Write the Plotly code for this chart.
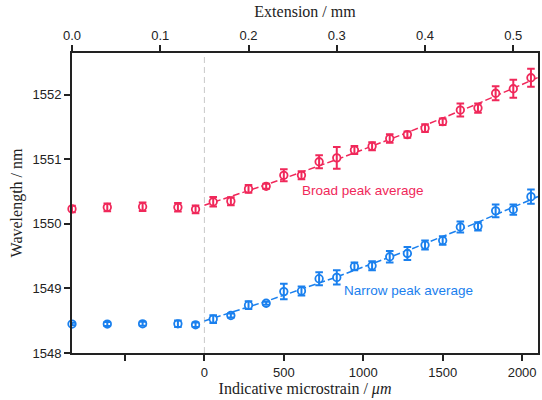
import numpy as np
import plotly.graph_objects as go

# Extension (mm) of each measurement
ext_pre = [0.0, 0.04, 0.08, 0.12, 0.14]
ext_post = [0.16, 0.18, 0.20, 0.22, 0.24, 0.26, 0.28, 0.30, 0.32, 0.34,
            0.36, 0.38, 0.40, 0.42, 0.44, 0.46, 0.48, 0.50, 0.52]

broad_pre = [1550.23, 1550.255, 1550.264, 1550.255, 1550.224]
broad_pre_err = [0.05, 0.06, 0.065, 0.065, 0.06]
broad_post = [1550.34, 1550.35, 1550.54, 1550.58, 1550.75, 1550.75, 1550.96,
              1551.02, 1551.14, 1551.20, 1551.32, 1551.38, 1551.48, 1551.58,
              1551.76, 1551.79, 1552.02, 1552.09, 1552.26]
broad_post_err = [0.073, 0.062, 0.059, 0.039, 0.093, 0.062, 0.10, 0.17, 0.062,
                  0.062, 0.065, 0.05, 0.06, 0.05, 0.10, 0.07, 0.11, 0.14, 0.14]

narrow_pre = [1548.448, 1548.448, 1548.452, 1548.452, 1548.436]
narrow_pre_err = [0.02, 0.03, 0.03, 0.05, 0.035]
narrow_post = [1548.525, 1548.58, 1548.74, 1548.77, 1548.95, 1548.96, 1549.15,
               1549.17, 1549.34, 1549.35, 1549.49, 1549.54, 1549.67, 1549.74,
               1549.95, 1549.96, 1550.20, 1550.22, 1550.42]
narrow_post_err = [0.06, 0.03, 0.06, 0.025, 0.12, 0.07, 0.10, 0.11, 0.06, 0.07,
                   0.09, 0.10, 0.07, 0.065, 0.085, 0.065, 0.10, 0.08, 0.11]

ext_zero = 0.15      # mm at zero strain
gauge_len = 180.0    # mm
ext_range = [0.0, 0.528]
strain_ticks = [-500, 0, 500, 1000, 1500, 2000]
strain_labels = ["", "0", "500", "1000", "1500", "2000"]
ext_ticks = [0.0, 0.1, 0.2, 0.3, 0.4, 0.5]
ext_labels = ["0.0", "0.1", "0.2", "0.3", "0.4", "0.5"]

RED = "#f0285a"
BLUE = "#1a80ee"
AX = "#222222"

def to_strain(e):
    return (np.asarray(e) - ext_zero) / gauge_len * 1e6

strain_range = list(to_strain(ext_range))

fig = go.Figure()

xfit = np.linspace(ext_zero, ext_range[1], 100)
for vals, col in [(broad_post, RED), (narrow_post, BLUE)]:
    c = np.polyfit(ext_post, vals, 2)
    fig.add_trace(go.Scatter(x=xfit, y=np.polyval(c, xfit), mode="lines",
                             xaxis="x2", yaxis="y",
                             line=dict(color=col, width=1.5, dash="7px,3px"),
                             hoverinfo="skip", showlegend=False))

series = [(ext_pre + ext_post, broad_pre + broad_post, broad_pre_err + broad_post_err, RED),
          (ext_pre + ext_post, narrow_pre + narrow_post, narrow_pre_err + narrow_post_err, BLUE)]

for xs, ys, es, col in series:
    fig.add_trace(go.Scatter(x=xs, y=ys, mode="markers", xaxis="x2", yaxis="y",
                             marker=dict(symbol="circle", size=7.5, color="white",
                                         line=dict(color=col, width=1.8)),
                             showlegend=False, cliponaxis=False))
    # error bars drawn on top of the markers
    fig.add_trace(go.Scatter(x=xs, y=ys, mode="markers", xaxis="x2", yaxis="y",
                             error_y=dict(type="data", array=es, color=col, thickness=2, width=3.8),
                             marker=dict(size=1, opacity=0),
                             hoverinfo="skip", showlegend=False, cliponaxis=False))

fig.add_shape(type="line", xref="x", yref="paper", x0=0, x1=0, y0=0, y1=1,
              line=dict(color="#c8c8c8", width=1, dash="6px,4px"), layer="below")

fig.add_annotation(x=to_strain(0.2585), y=1550.52, xref="x", yref="y", text="Broad peak average",
                   showarrow=False, xanchor="left", yanchor="middle",
                   font=dict(family="Liberation Sans, Arial", size=13.5, color=RED))
fig.add_annotation(x=to_strain(0.3058), y=1548.96, xref="x", yref="y", text="Narrow peak average",
                   showarrow=False, xanchor="left", yanchor="middle",
                   font=dict(family="Liberation Sans, Arial", size=13.5, color=BLUE))

tickfont = dict(family="Liberation Sans, Arial", size=13, color="#222")
titlefont = dict(family="Liberation Serif, Times New Roman", size=16, color="#222")

fig.update_layout(
    width=542, height=400,
    margin=dict(l=71.7, r=3.7, t=52.7, b=46.7, autoexpand=False),
    paper_bgcolor="white", plot_bgcolor="white",
    xaxis=dict(range=strain_range, tickvals=strain_ticks, ticktext=strain_labels,
               automargin=False,
               showgrid=False, zeroline=False, showline=True, linecolor=AX, linewidth=2,
               ticks="outside", ticklen=6, tickwidth=2, tickcolor=AX, tickfont=tickfont,
               title=dict(text="Indicative microstrain / <i>μm</i>", font=titlefont, standoff=3)),
    xaxis2=dict(range=ext_range, tickvals=ext_ticks, ticktext=ext_labels, overlaying="x",
                automargin=False,
                side="top", anchor="y", showgrid=False, zeroline=False, showline=True,
                linecolor=AX, linewidth=2, ticks="outside", ticklen=6, tickwidth=2,
                tickcolor=AX, tickfont=tickfont,
                title=dict(text="Extension / mm", font=titlefont, standoff=6)),
    yaxis=dict(range=[1548, 1552.643], tickvals=[1548, 1549, 1550, 1551, 1552],
               automargin=False,
               showgrid=False, zeroline=False, showline=True, mirror=True, linecolor=AX,
               linewidth=2, ticks="outside", ticklen=6, tickwidth=2, tickcolor=AX,
               tickfont=tickfont,
               title=dict(text="Wavelength / nm", font=titlefont, standoff=6)),
)

fig.write_html("out.html", config={"displayModeBar": False},
               post_script="document.body.style.margin='0px';document.body.style.overflow='hidden';")
